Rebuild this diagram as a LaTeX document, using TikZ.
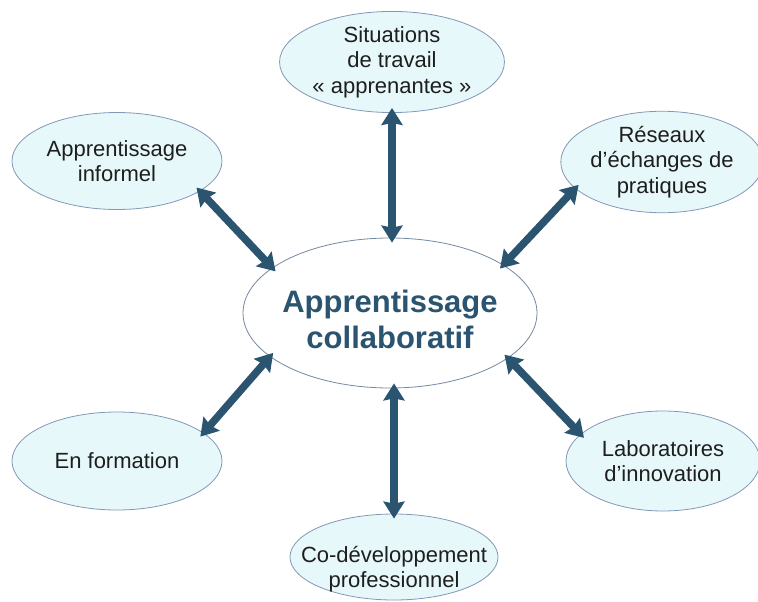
\documentclass[tikz,border=0pt]{standalone}
\usepackage{fontspec}
\setmainfont{Liberation Sans}
\usetikzlibrary{arrows.meta,shapes.geometric}
\definecolor{bubblefill}{HTML}{E7F8FB}
\definecolor{bubbleline}{HTML}{8298B4}
\definecolor{arrowcol}{HTML}{2A5470}
\definecolor{txtcol}{HTML}{1E1E1E}
\tikzset{
  bubble/.style={ellipse, draw=bubbleline, line width=0.8pt, fill=bubblefill, inner sep=0pt,
    text=txtcol, align=center, font=\fontsize{22}{25.5}\selectfont},
  mainbubble/.style={ellipse, draw=bubbleline!90!black, line width=0.8pt, fill=white, inner sep=0pt},
  maintxt/.style={text=arrowcol, align=center, inner sep=0pt, font=\fontsize{31}{36}\selectfont\bfseries},
  plaintxt/.style={text=txtcol, align=center, inner sep=0pt, font=\fontsize{22}{25.5}\selectfont},
  link/.style={draw=arrowcol, line width=7.5pt,
    {Stealth[length=17pt,width=21pt,inset=2pt]}-{Stealth[length=17pt,width=21pt,inset=2pt]},
    shorten <=-5pt, shorten >=-5pt}
}
\begin{document}
\begin{tikzpicture}[x=1pt,y=-1pt]
\useasboundingbox (0,0) rectangle (758,602);
% central ellipse
\node[mainbubble, minimum width=294pt, minimum height=150pt] (c) at (390,313) {};
\node[maintxt] (ct) at (390,319) {Apprentissage\\collaboratif};
% outer ellipses
\node[bubble, minimum width=210pt, minimum height=100pt] (t) at (392,62)
  {Situations\\de travail\\« apprenantes »};
\node[bubble, minimum width=210pt, minimum height=97pt] (il) at (117,161)
  {Apprentissage\\informel};
\node[bubble, minimum width=192pt, minimum height=100pt] (r) at (662,162)
  {Réseaux\\d’échanges de\\pratiques};
\node[bubble, minimum width=210pt, minimum height=98pt] (f) at (117,461)
  {En formation};
\node[bubble, minimum width=194pt, minimum height=100pt] (l) at (663,461)
  {Laboratoires\\d’innovation};
\node[bubble, minimum width=208pt, minimum height=86pt] (b) at (394,557) {};
\node[plaintxt] (bt) at (394,569) {Co-développement\\professionnel};
% connectors
\draw[link] (t.south) -- (t.south |- c.north);
\draw[link] (c.south -| b.north) -- (b.north);
\draw[link] (il.-20) -- (c.159);
\draw[link] (r.197) -- (c.23);
\draw[link] (c.200) -- (f.18);
\draw[link] (c.-21) -- (l.162);
\end{tikzpicture}
\end{document}
